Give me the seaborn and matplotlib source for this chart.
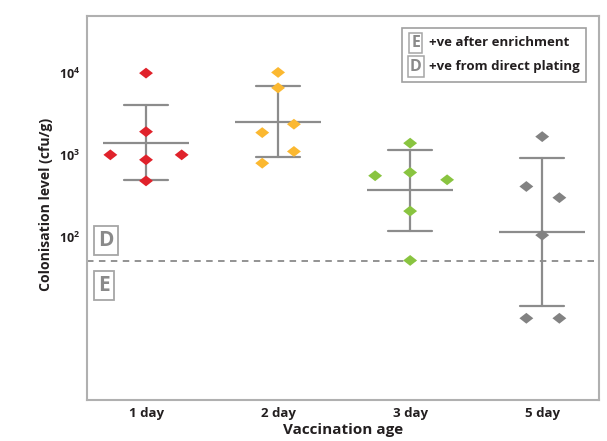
import numpy as np
import pandas as pd
import matplotlib
matplotlib.use("Agg")
import matplotlib.pyplot as plt
import seaborn as sns
from matplotlib.patches import Rectangle

# ---------------- data ----------------
ages = ["1 day", "2 day", "3 day", "5 day"]
day1_cfu = [10000, 1920, 1000, 870, 1000, 480]
day2_cfu = [10200, 6600, 1870, 2370, 1100, 790]
day3_cfu = [1390, 608, 555, 495, 205, 51]
day5_cfu = [1670, 410, 299, 104, 10, 10]
detection_limit = 50
ytick_values = [1e2, 1e3, 1e4]
ytick_labels = [r"$\mathbf{10^{2}}$", r"$\mathbf{10^{3}}$", r"$\mathbf{10^{4}}$"]
legend_keys = ["E", "D"]
legend_texts = ["+ve after enrichment", "+ve from direct plating"]

# ---------------- styling ----------------
group_colors = ["#e0222b", "#fbb830", "#89c440", "#828282"]
day1_offset = [0, 0, -0.27, 0, 0.27, 0]
day2_offset = [0, 0, -0.12, 0.12, 0.12, -0.12]
day3_offset = [0, 0, -0.265, 0.28, 0, 0]
day5_offset = [0, -0.12, 0.13, 0, -0.12, 0.13]

sns.set_theme(style="white")
plt.rcParams["font.family"] = ["Open Sans", "DejaVu Sans"]
plt.rcParams["mathtext.fontset"] = "custom"
plt.rcParams["mathtext.rm"] = "Open Sans"
plt.rcParams["mathtext.bf"] = "Open Sans:bold"

groups = [day1_cfu, day2_cfu, day3_cfu, day5_cfu]
offsets = [day1_offset, day2_offset, day3_offset, day5_offset]
rows = []
for i, (vals, offs) in enumerate(zip(groups, offsets)):
    for v, o in zip(vals, offs):
        rows.append({"pos": i, "xpos": i + o, "cfu": v, "age": ages[i]})
df = pd.DataFrame(rows)

fig = plt.figure(figsize=(6.07, 4.41), dpi=100)
ax = fig.add_axes([0.1433, 0.093, 0.8435, 0.8707])

grey = "#8c8c8c"
sns.pointplot(data=df, x="pos", y="cfu", native_scale=True, log_scale=(False, True),
              estimator="mean", errorbar="sd", capsize=0.33, color=grey,
              markers="_", markersize=62, markeredgewidth=1.6, linestyle="none",
              err_kws={"linewidth": 1.6}, ax=ax)

diamond = [(-1, 0), (0, 0.78), (1, 0), (0, -0.78), (-1, 0)]
palette = dict(zip(ages, group_colors))
sns.scatterplot(data=df, x="xpos", y="cfu", hue="age", palette=palette,
                marker=diamond, s=100, linewidth=0, legend=False, ax=ax, zorder=4)

ax.axhline(detection_limit, color="#8a8a8a", lw=1.3, ls=(0, (3.6, 3.0)), zorder=1)

ax.set_yscale("log")
ax.set_ylim(1, 5e4)
ax.set_xlim(-0.447, 3.43)
ax.set_yticks(ytick_values, ytick_labels)
ax.yaxis.set_minor_locator(matplotlib.ticker.NullLocator())
ax.set_xticks(range(len(ages)), ages)
ax.tick_params(axis="both", length=0, colors="#231f20")
ax.tick_params(axis="y", labelsize=9, pad=5)
ax.tick_params(axis="x", labelsize=9.5, pad=5)
for lab in ax.get_xticklabels():
    lab.set_fontweight("bold")
ax.set_xlabel("Vaccination age", fontsize=11, fontweight="bold", labelpad=2, color="#231f20")
ax.set_ylabel("Colonisation level (cfu/g)", fontsize=10.1, fontweight="bold",
              color="#231f20")
ax.yaxis.set_label_coords(-0.066, 0.508)
for sp in ax.spines.values():
    sp.set_color("#b0b0b0")
    sp.set_linewidth(1.5)

# D / E region markers
box_kw = dict(boxstyle="square,pad=0.2", fc="white", ec="#a6a6a6", lw=1.3)
ax.text(0.037, 0.415, "D", transform=ax.transAxes, ha="center", va="center",
        fontsize=15, fontweight="bold", color="#8a8a8a", bbox=box_kw)
ax.text(0.034, 0.298, "E", transform=ax.transAxes, ha="center", va="center",
        fontsize=15, fontweight="bold", color="#8a8a8a", bbox=box_kw)

# legend
ax.add_patch(Rectangle((0.615, 0.828), 0.36, 0.141, transform=ax.transAxes,
                       fill=False, ec="#a0a0a0", lw=1.2, zorder=5))
small_box = dict(boxstyle="square,pad=0.14", fc="white", ec="#a6a6a6", lw=1.1)
for k, (key, txt) in enumerate(zip(legend_keys, legend_texts)):
    yy = 0.930 - k * 0.062
    ax.text(0.642, yy, key, transform=ax.transAxes, ha="center", va="center",
            fontsize=11.5, fontweight="bold", color="#8a8a8a", bbox=small_box, zorder=6)
    ax.text(0.668, yy, txt, transform=ax.transAxes, ha="left", va="center",
            fontsize=9.5, fontweight="bold", color="#231f20", zorder=6)

fig.savefig("out.png", dpi=100)
